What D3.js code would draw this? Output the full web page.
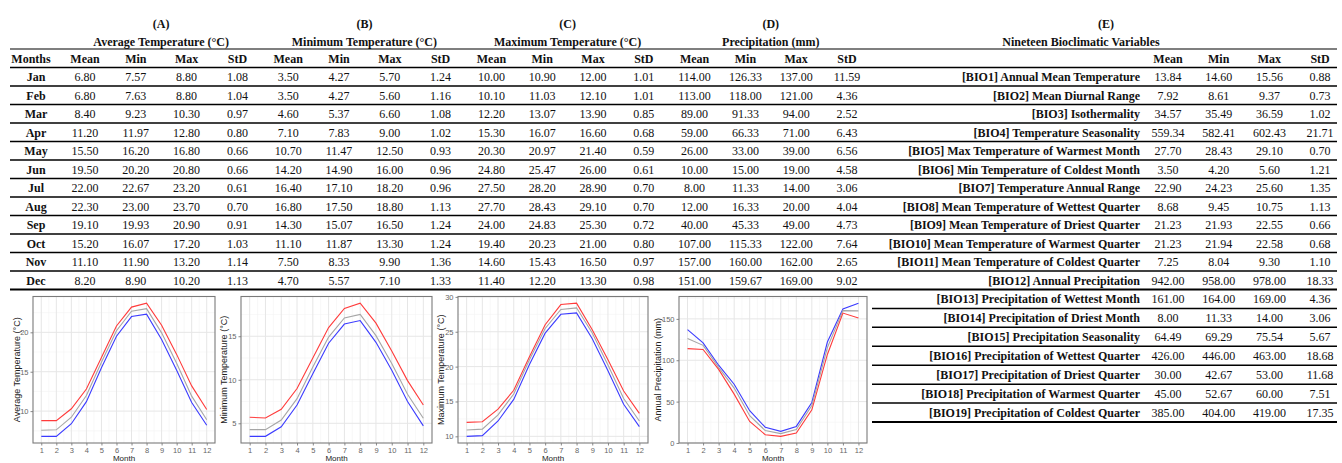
<!DOCTYPE html>
<html>
<head>
<meta charset="utf-8">
<script src="https://cdn.jsdelivr.net/npm/d3@7"></script>
<style>
  body { margin: 0; background: #fff; }
  svg { display: block; }
  .tb { font-family: "Liberation Serif", serif; font-size: 12px; fill: #111; }
  .bold { font-weight: bold; }
  .tick-lab { font-family: "Liberation Sans", Arial, sans-serif; font-size: 7.5px; fill: #666; }
  .axt { font-family: "Liberation Sans", Arial, sans-serif; font-size: 9px; fill: #222; }
  .xt { font-size: 8px; }
</style>
</head>
<body>
<script>
var W = 1342, H = 463;

// ---- data ----
var months = ["Jan","Feb","Mar","Apr","May","Jun","Jul","Aug","Sep","Oct","Nov","Dec"];
var monthNum = [1,2,3,4,5,6,7,8,9,10,11,12];

var avgMean = [6.80,6.80,8.40,11.20,15.50,19.50,22.00,22.30,19.10,15.20,11.10,8.20];
var avgMin  = [7.57,7.63,9.23,11.97,16.20,20.20,22.67,23.00,19.93,16.07,11.90,8.90];
var avgMax  = [8.80,8.80,10.30,12.80,16.80,20.80,23.20,23.70,20.90,17.20,13.20,10.20];
var avgStd  = [1.08,1.04,0.97,0.80,0.66,0.66,0.61,0.70,0.91,1.03,1.14,1.13];

var minMean = [3.50,3.50,4.60,7.10,10.70,14.20,16.40,16.80,14.30,11.10,7.50,4.70];
var minMin  = [4.27,4.27,5.37,7.83,11.47,14.90,17.10,17.50,15.07,11.87,8.33,5.57];
var minMax  = [5.70,5.60,6.60,9.00,12.50,16.00,18.20,18.80,16.50,13.30,9.90,7.10];
var minStd  = [1.24,1.16,1.08,1.02,0.93,0.96,0.96,1.13,1.24,1.24,1.36,1.33];

var maxMean = [10.00,10.10,12.20,15.30,20.30,24.80,27.50,27.70,24.00,19.40,14.60,11.40];
var maxMin  = [10.90,11.03,13.07,16.07,20.97,25.47,28.20,28.43,24.83,20.23,15.43,12.20];
var maxMax  = [12.00,12.10,13.90,16.60,21.40,26.00,28.90,29.10,25.30,21.00,16.50,13.30];
var maxStd  = [1.01,1.01,0.85,0.68,0.59,0.61,0.70,0.70,0.72,0.80,0.97,0.98];

var preMean = [114.00,113.00,89.00,59.00,26.00,10.00,8.00,12.00,40.00,107.00,157.00,151.00];
var preMin  = [126.33,118.00,91.33,66.33,33.00,15.00,11.33,16.33,45.33,115.33,160.00,159.67];
var preMax  = [137.00,121.00,94.00,71.00,39.00,19.00,14.00,20.00,49.00,122.00,162.00,169.00];
var preStd  = [11.59,4.36,2.52,6.43,6.56,4.58,3.06,4.04,4.73,7.64,2.65,9.02];

var bioLabels = [
  "[BIO1] Annual Mean Temperature",
  "[BIO2] Mean Diurnal Range",
  "[BIO3] Isothermality",
  "[BIO4] Temperature Seasonality",
  "[BIO5] Max Temperature of Warmest Month",
  "[BIO6] Min Temperature of Coldest Month",
  "[BIO7] Temperature Annual Range",
  "[BIO8] Mean Temperature of Wettest Quarter",
  "[BIO9] Mean Temperature of Driest Quarter",
  "[BIO10] Mean Temperature of Warmest Quarter",
  "[BIO11] Mean Temperature of Coldest Quarter",
  "[BIO12] Annual Precipitation",
  "[BIO13] Precipitation of Wettest Month",
  "[BIO14] Precipitation of Driest Month",
  "[BIO15] Precipitation Seasonality",
  "[BIO16] Precipitation of Wettest Quarter",
  "[BIO17] Precipitation of Driest Quarter",
  "[BIO18] Precipitation of Warmest Quarter",
  "[BIO19] Precipitation of Coldest Quarter"
];
var bioMean = [13.84,7.92,34.57,559.34,27.70,3.50,22.90,8.68,21.23,21.23,7.25,942.00,161.00,8.00,64.49,426.00,30.00,45.00,385.00];
var bioMin  = [14.60,8.61,35.49,582.41,28.43,4.20,24.23,9.45,21.93,21.94,8.04,958.00,164.00,11.33,69.29,446.00,42.67,52.67,404.00];
var bioMax  = [15.56,9.37,36.59,602.43,29.10,5.60,25.60,10.75,22.55,22.58,9.30,978.00,169.00,14.00,75.54,463.00,53.00,60.00,419.00];
var bioStd  = [0.88,0.73,1.02,21.71,0.70,1.21,1.35,1.13,0.66,0.68,1.10,18.33,4.36,3.06,5.67,18.68,11.68,7.51,17.35];

var statNames = ["Mean","Min","Max","StD"];
var groupLetters = ["(A)","(B)","(C)","(D)"];
var groupTitles = ["Average Temperature (°C)","Minimum Temperature (°C)","Maximum Temperature (°C)","Precipitation (mm)"];
var groupCols = [
  [avgMean, avgMin, avgMax, avgStd],
  [minMean, minMin, minMax, minStd],
  [maxMean, maxMin, maxMax, maxStd],
  [preMean, preMin, preMax, preStd]
];

var svg = d3.select("body").append("svg")
    .attr("width", W)
    .attr("height", H);
svg.append("rect").attr("width", W).attr("height", H).attr("fill", "#fff");

// ---- table layout ----
var topLine = 49;
// row index -> top edge (rows below the monthly table are a bit taller)
var rowY = d3.scaleLinear().domain([0, 12, 19]).range([67.5, 289.5, 422]);
var colX = d3.scaleLinear().domain([0, 1]).range([85, 85 + 50.8]);   // column index -> centre
var fmt = d3.format(".2f");
function rowText(r) { return (rowY(r) + rowY(r + 1)) / 2 + 4.3; }

var tbl = svg.append("g");

// group headers (A)-(D)
groupLetters.forEach(function(g, i) {
  var cx = (colX(i * 4) + colX(i * 4 + 3)) / 2;
  tbl.append("text").attr("class", "tb bold").attr("x", cx).attr("y", 27.5)
    .attr("text-anchor", "middle").text(g);
  tbl.append("text").attr("class", "tb bold").attr("x", cx).attr("y", 45.5)
    .attr("text-anchor", "middle").text(groupTitles[i]);
});

// header row
tbl.append("text").attr("class", "tb bold").attr("x", 31).attr("y", 62.5)
  .attr("text-anchor", "middle").text("Months");
d3.range(16).forEach(function(c) {
  tbl.append("text").attr("class", "tb bold").attr("x", colX(c)).attr("y", 62.5)
    .attr("text-anchor", "middle").text(statNames[c % 4]);
});

// body rows
months.forEach(function(m, r) {
  var y = rowText(r);
  tbl.append("text").attr("class", "tb bold").attr("x", 36).attr("y", y)
    .attr("text-anchor", "middle").text(m);
  groupCols.forEach(function(cols, g) {
    cols.forEach(function(arr, k) {
      tbl.append("text").attr("class", "tb").attr("x", colX(g * 4 + k)).attr("y", y)
        .attr("text-anchor", "middle").text(fmt(arr[r]));
    });
  });
});

// (E) table
var eCol = d3.scaleLinear().domain([0, 1]).range([1168, 1218.7]);
tbl.append("text").attr("class", "tb bold").attr("x", 1106).attr("y", 27.5)
  .attr("text-anchor", "middle").text("(E)");
tbl.append("text").attr("class", "tb bold").attr("x", 1081).attr("y", 45.5)
  .attr("text-anchor", "middle").text("Nineteen Bioclimatic Variables");
statNames.forEach(function(s, k) {
  tbl.append("text").attr("class", "tb bold").attr("x", eCol(k)).attr("y", 62.5)
    .attr("text-anchor", "middle").text(s);
});
var bioCols = [bioMean, bioMin, bioMax, bioStd];
bioLabels.forEach(function(lab, r) {
  var y = rowText(r);
  tbl.append("text").attr("class", "tb bold").attr("x", 1140).attr("y", y)
    .attr("text-anchor", "end").text(lab);
  bioCols.forEach(function(arr, k) {
    tbl.append("text").attr("class", "tb").attr("x", eCol(k)).attr("y", y)
      .attr("text-anchor", "middle").text(fmt(arr[r]));
  });
});

// rules
function rule(x1, x2, y, w) {
  tbl.append("line").attr("x1", x1).attr("x2", x2).attr("y1", y).attr("y2", y)
    .attr("stroke", "#000").attr("stroke-width", w);
}
rule(10, 1337, topLine, 1.2);
d3.range(0, bioLabels.length + 1).forEach(function(i) {
  var y = rowY(i);
  var last = (i === months.length || i === bioLabels.length);
  if (i <= months.length) rule(10, 1337, y, last ? 2 : 1.5);
  else rule(872, 1337, y, last ? 2 : 1.5);
});

// ---- line charts ----
var panels = [
  {x0: 33,  x1: 215, ytx: 17,  ylab: "Average Temperature (°C)",
   series: [[avgMax, "#ff3b3b"], [avgMin, "#a6a6a6"], [avgMean, "#3b3bff"]], breaks: [10, 15, 20]},
  {x0: 241, x1: 432, ytx: 224, ylab: "Minimum Temperature (°C)",
   series: [[minMax, "#ff3b3b"], [minMin, "#a6a6a6"], [minMean, "#3b3bff"]], breaks: [5, 10, 15]},
  {x0: 458, x1: 648, ytx: 441, ylab: "Maximum Temperature (°C)",
   series: [[maxMax, "#ff3b3b"], [maxMin, "#a6a6a6"], [maxMean, "#3b3bff"]], breaks: [10, 15, 20, 25, 30]},
  {x0: 679, x1: 867, ytx: 658, ylab: "Annual Precipitation (mm)",
   series: [[preMax, "#3b3bff"], [preMin, "#a6a6a6"], [preMean, "#ff3b3b"]], breaks: [0, 50, 100, 150]}
];
var pTop = 296.5, pBot = 443;

panels.forEach(function(p) {
  var g = svg.append("g");
  var all = d3.merge(p.series.map(function(s) { return s[0]; }));
  var lo = d3.min(all), hi = d3.max(all), pad = (hi - lo) * 0.05;
  var y = d3.scaleLinear().domain([lo - pad, hi + pad]).range([pBot, pTop]);
  var x = d3.scaleLinear().domain([1 - 0.55, 12 + 0.55]).range([p.x0, p.x1]);

  // minor grid
  var step = p.breaks[1] - p.breaks[0];
  var minorY = d3.range(p.breaks[0] - step / 2, hi + pad, step)
    .filter(function(v) { return v > lo - pad && v < hi + pad; });
  var minorX = d3.range(1.5, 12, 1);
  g.selectAll(".mny").data(minorY).enter().append("line")
    .attr("x1", p.x0).attr("x2", p.x1)
    .attr("y1", function(d) { return y(d); }).attr("y2", function(d) { return y(d); })
    .attr("stroke", "#f3f3f3").attr("stroke-width", 0.6);
  g.selectAll(".mnx").data(minorX).enter().append("line")
    .attr("y1", pTop).attr("y2", pBot)
    .attr("x1", function(d) { return x(d); }).attr("x2", function(d) { return x(d); })
    .attr("stroke", "#f3f3f3").attr("stroke-width", 0.6);
  // major grid
  g.selectAll(".mjy").data(p.breaks).enter().append("line")
    .attr("x1", p.x0).attr("x2", p.x1)
    .attr("y1", function(d) { return y(d); }).attr("y2", function(d) { return y(d); })
    .attr("stroke", "#e6e6e6").attr("stroke-width", 1);
  g.selectAll(".mjx").data(monthNum).enter().append("line")
    .attr("y1", pTop).attr("y2", pBot)
    .attr("x1", function(d) { return x(d); }).attr("x2", function(d) { return x(d); })
    .attr("stroke", "#e6e6e6").attr("stroke-width", 1);

  // series
  var line = d3.line()
    .x(function(d, i) { return x(monthNum[i]); })
    .y(function(d) { return y(d); });
  p.series.forEach(function(s) {
    g.append("path").datum(s[0])
      .attr("d", line)
      .attr("fill", "none")
      .attr("stroke", s[1])
      .attr("stroke-width", 1.1);
  });

  // axes
  var xa = g.append("g").attr("transform", "translate(0," + pBot + ")")
    .call(d3.axisBottom(x).tickValues(monthNum).tickSize(2.5).tickPadding(2).tickFormat(d3.format("d")));
  var ya = g.append("g").attr("transform", "translate(" + p.x0 + ",0)")
    .call(d3.axisLeft(y).tickValues(p.breaks).tickSize(2.5).tickPadding(2).tickFormat(d3.format("d")));
  [xa, ya].forEach(function(a) {
    a.select(".domain").remove();
    a.selectAll(".tick line").attr("stroke", "#888");
    a.selectAll(".tick text").attr("class", "tick-lab").attr("fill", null).attr("font-family", null).attr("font-size", null);
  });

  // frame
  g.append("rect").attr("x", p.x0).attr("y", pTop)
    .attr("width", p.x1 - p.x0).attr("height", pBot - pTop)
    .attr("fill", "none").attr("stroke", "#7a7a7a").attr("stroke-width", 1.1);

  // titles
  g.append("text").attr("class", "axt")
    .attr("transform", "translate(" + (p.ytx + 3) + "," + ((pTop + pBot) / 2) + ") rotate(-90)")
    .attr("text-anchor", "middle").text(p.ylab);
  g.append("text").attr("class", "axt xt")
    .attr("x", (p.x0 + p.x1) / 2).attr("y", 460.5)
    .attr("text-anchor", "middle").text("Month");
});
</script>
</body>
</html>
